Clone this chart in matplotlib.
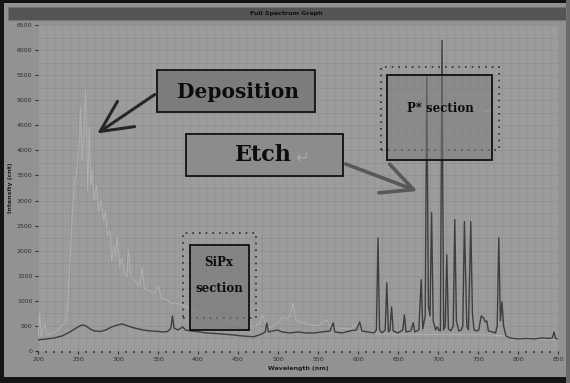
import matplotlib.pyplot as plt
import matplotlib.colors as mcolors
from matplotlib.patches import Rectangle, FancyArrowPatch
import numpy as np

# wavelength (nm) / intensity (cnt)
etch_wl = [200, 210, 220, 230, 240, 250, 255, 260, 265, 270, 278, 285, 292, 300, 305, 312, 320,
           331, 340, 350, 356, 362, 366, 368, 370, 375, 381, 384, 392, 402, 410, 420, 430, 444,
           455, 465, 469, 480, 484, 486, 488, 499, 505, 515, 525, 535, 545, 555, 565, 569, 571,
           580, 590, 598, 602, 605, 612, 620, 623, 625, 627, 630, 634, 636, 638, 640, 642, 644,
           650, 656, 658, 660, 666, 669, 671, 676, 679, 681, 684, 686, 688, 690, 692, 694, 697,
           699, 701, 703, 705, 707, 709, 711, 713, 716, 719, 721, 723, 726, 729, 731, 733, 734,
           736, 738, 741, 743, 745, 748, 751, 754, 757, 759, 761, 763, 768, 772, 774, 776, 778,
           780, 782, 785, 790, 800, 810, 820, 830, 838, 843, 845, 847, 850]
etch_int = [220, 240, 260, 300, 380, 480, 520, 500, 440, 400, 390, 420, 480, 520, 540, 500, 460,
            420, 400, 390, 380, 390, 450, 700, 460, 420, 480, 420, 400, 380, 360, 350, 340, 320,
            300, 290, 280, 340, 380, 560, 380, 420, 380, 360, 380, 360, 360, 380, 400, 560, 380,
            360, 400, 420, 580, 400, 380, 360, 420, 2250, 420, 360, 420, 1360, 380, 420, 880, 400,
            360, 420, 720, 380, 400, 560, 380, 420, 1420, 440, 700, 5500, 900, 700, 2760, 600, 420,
            480, 420, 400, 6190, 420, 500, 1920, 440, 400, 500, 2620, 600, 400, 420, 500, 2580, 1860,
            500, 420, 2580, 760, 420, 400, 420, 700, 660, 580, 600, 400, 380, 360, 500, 2260, 600,
            980, 500, 300, 260, 240, 250, 240, 260, 250, 260, 380, 250, 240]

dep_wl = [200, 202, 204, 209, 211, 219, 225, 231, 234, 237, 240, 243, 246, 249, 252, 253, 255,
          257, 259.5, 261, 262, 264, 266, 268, 270, 273, 276, 279, 282, 284, 287, 290, 292, 295,
          297, 299, 302, 305, 308, 311, 313, 316, 320, 324, 327, 330, 333, 336, 340, 345, 350,
          355, 361, 366, 372, 380, 386, 394, 400, 405, 411, 420, 430, 444, 455, 465, 472, 478,
          481, 484, 490, 496, 502, 506, 510, 515, 519, 522, 531, 540, 550, 561, 565, 575, 590,
          602, 606, 620, 650, 700, 750, 785, 790, 850]
dep_int = [250, 760, 300, 560, 320, 360, 420, 520, 560, 900, 1800, 2800, 3400, 3600, 4300, 4860,
           3800, 4200, 5220, 4100, 3200, 4460, 3300, 3600, 3000, 3300, 2800, 3000, 2600, 2780,
           2300, 2400, 1800, 2100, 1900, 2280, 1700, 1850, 1550, 1480, 2020, 1500, 1420, 1350,
           1300, 1660, 1250, 1220, 1200, 1150, 1280, 1050, 1020, 950, 960, 920, 880, 820, 780,
           750, 720, 680, 640, 580, 520, 480, 500, 560, 720, 560, 460, 520, 600, 680, 640, 700,
           960, 620, 560, 520, 500, 620, 480, 460, 440, 580, 400, 340, 330, 330, 330, 300, 240, 230]

xticks = list(range(200, 851, 50))
yticks = list(range(0, 6501, 500))

W, H = 570, 383


def fx(px):
    return px / W


def fy(py):
    return 1 - py / H


def rect(x0, y0, x1, y1, **kw):
    # rectangle given in screenshot pixels
    r = Rectangle((fx(x0), fy(y1)), fx(x1 - x0), (y1 - y0) / H, transform=fig.transFigure, **kw)
    fig.add_artist(r)
    return r


fig = plt.figure(figsize=(5.7, 3.83), dpi=100, facecolor='#929292')

# window frame + title bar
rect(0, 0, 570, 3, facecolor='#111111', edgecolor='none')
rect(0, 0, 4, 383, facecolor='#151515', edgecolor='none')
rect(0, 377, 570, 383, facecolor='#151515', edgecolor='none')
rect(566, 0, 570, 383, facecolor='#6a6a6a', edgecolor='none')
rect(8, 7, 566, 20, facecolor='#545454', edgecolor='#757575', lw=0.8)
fig.text(fx(286), fy(13.5), 'Full Spectrum Graph', fontsize=4.5, fontweight='bold',
         color='#111111', ha='center', va='center')

ax = fig.add_axes([fx(38), fy(351), 520 / W, 326 / H])
ax.set_facecolor('#9c9c9c')
ax.plot(dep_wl, dep_int, color='#b0b0b0', lw=0.7, zorder=2)
ax.plot(etch_wl, etch_int, color='#3e3e3e', lw=1.0, zorder=3)

ax.set_xlim(200, 850)
ax.set_ylim(0, 6500)
ax.set_xticks(xticks)
ax.set_yticks(yticks)
ax.set_xticks(np.arange(200, 851, 10), minor=True)
ax.set_yticks(np.arange(0, 6501, 250), minor=True)
ax.grid(which='both', color='#8f8f8f', lw=0.5)
ax.set_axisbelow(True)
for s in ax.spines.values():
    s.set_visible(False)
ax.tick_params(axis='both', which='major', labelsize=4.5, colors='#303030', length=2, pad=2)
ax.tick_params(axis='x', which='minor', length=1.5, width=1.2, color='#404040')
ax.tick_params(axis='y', which='minor', length=0)
ax.set_xlabel('Wavelength (nm)', fontsize=4.5, fontweight='bold', color='#202020', labelpad=3)
ax.set_ylabel('Intensity (cnt)', fontsize=4.5, fontweight='bold', color='#202020', labelpad=3)

# annotation boxes
rect(157, 70, 315, 112, facecolor='#7c7c7c', edgecolor='#101010', lw=1.3, zorder=5)
rect(186, 134, 343, 176, facecolor='#8c8c8c', edgecolor='#101010', lw=1.3, zorder=5)
rect(381, 67, 499, 150, fill=False, edgecolor='#303030', lw=1.2, linestyle=(0, (1, 3)), zorder=5)
rect(387, 75, 492, 160, facecolor=mcolors.to_rgba('#7d7d7d', 0.55), edgecolor='#101010',
     lw=1.3, zorder=5)
rect(183, 233, 256, 318, fill=False, edgecolor='#303030', lw=1.2, linestyle=(0, (1, 3)), zorder=5)
rect(190, 245, 249, 330, facecolor=mcolors.to_rgba('#747474', 0.6), edgecolor='#101010',
     lw=1.3, zorder=5)

serif = ['DejaVu Serif']
fig.text(fx(238), fy(92), 'Deposition', fontsize=14.5, family=serif, fontweight='bold',
         color='#0c0c0c', ha='center', va='center', zorder=6)
fig.text(fx(263), fy(155), 'Etch', fontsize=16, family=serif, fontweight='bold',
         color='#0c0c0c', ha='center', va='center', zorder=6)
fig.text(fx(302), fy(158), '\u21b5', fontsize=12, color='#a8a8a8', ha='center',
         va='center', zorder=6)
fig.text(fx(440), fy(108), 'P* section', fontsize=8.5, family=serif, fontweight='bold',
         color='#0c0c0c', ha='center', va='center', zorder=6)
fig.text(fx(488), fy(111), '\u21b5', fontsize=6, color='#9a9a9a', ha='center',
         va='center', zorder=6)
fig.text(fx(219), fy(262), 'SiPx', fontsize=8.5, family=serif, fontweight='bold',
         color='#0c0c0c', ha='center', va='center', zorder=6)
fig.text(fx(219), fy(289), 'section', fontsize=8.5, family=serif, fontweight='bold',
         color='#0c0c0c', ha='center', va='center', zorder=6)

# arrows
fig.add_artist(FancyArrowPatch((fx(157), fy(93)), (fx(95), fy(135)),
                               transform=fig.transFigure, arrowstyle='->,head_length=0.45,head_width=0.22',
                               mutation_scale=50, lw=2.2, color='#262626', zorder=6))
fig.add_artist(FancyArrowPatch((fx(343), fy(163)), (fx(420), fy(192)),
                               transform=fig.transFigure, arrowstyle='->,head_length=0.45,head_width=0.22',
                               mutation_scale=50, lw=2.6, color='#585858', zorder=6))

fig.savefig('out.png', dpi=100, facecolor=fig.get_facecolor())
